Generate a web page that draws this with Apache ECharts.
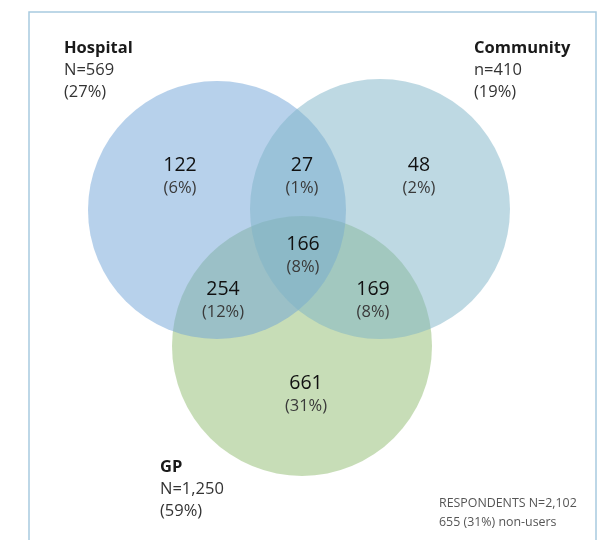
<!DOCTYPE html>
<html>
<head>
<meta charset="utf-8">
<script src="https://cdn.jsdelivr.net/npm/echarts@6/dist/echarts.min.js"></script>
<style>html,body{margin:0;padding:0;background:#fff}#c{width:604px;height:540px}</style>
</head>
<body>
<div id="c"></div>
<script>
// ---- data ----
const setNames = ['Hospital', 'Community', 'GP'];
const setCounts = ['N=569', 'n=410', 'N=1,250'];
const setPercents = ['(27%)', '(19%)', '(59%)'];
const regionKeys = ['H', 'HC', 'C', 'HCG', 'HG', 'CG', 'G'];
const regionCounts = ['122', '27', '48', '166', '254', '169', '661'];
const regionPercents = ['(6%)', '(1%)', '(2%)', '(8%)', '(12%)', '(8%)', '(31%)'];
const footnote = ['RESPONDENTS N=2,102', '655 (31%) non-users'];

// ---- layout (positions / styles) ----
const circleLayout = {
  GP: { cx: 302, cy: 346, r: 130, fill: 'rgba(143,188,112,0.5)' },
  Hospital: { cx: 217, cy: 210, r: 129, fill: 'rgba(111,163,216,0.5)' },
  Community: { cx: 380, cy: 209, r: 130, fill: 'rgba(125,180,200,0.5)' }
};
const drawOrder = ['GP', 'Hospital', 'Community'];
const setLabelPos = [[64, 48], [474, 48], [160, 467]];
const regionPos = {
  H: [180, 165], HC: [302, 165], C: [419, 165], HCG: [303, 244],
  HG: [223, 289], CG: [373, 289], G: [306, 383]
};
const FONT = '"Open Sans", "Noto Sans", sans-serif';

const graphics = [];
graphics.push({
  type: 'polyline', silent: true,
  shape: { points: [[29, 560], [29, 12], [596, 12], [596, 560]] },
  style: { stroke: '#a8cadf', lineWidth: 1.5, fill: null }
});
drawOrder.forEach(k => {
  const c = circleLayout[k];
  graphics.push({ type: 'circle', shape: { cx: c.cx, cy: c.cy, r: c.r }, style: { fill: c.fill } });
});
setNames.forEach((n, i) => {
  const [x, y] = setLabelPos[i];
  graphics.push({ type: 'text', x: x, y: y, style: { text: n, font: 'bold 16.5px ' + FONT, fill: '#1a1a1a', textVerticalAlign: 'middle', verticalAlign: 'middle' } });
  graphics.push({ type: 'text', x: x, y: y + 22, style: { text: setCounts[i], font: '16.5px ' + FONT, fill: '#333', textVerticalAlign: 'middle', verticalAlign: 'middle' } });
  graphics.push({ type: 'text', x: x, y: y + 44, style: { text: setPercents[i], font: '16.5px ' + FONT, fill: '#333', textVerticalAlign: 'middle', verticalAlign: 'middle' } });
});
regionKeys.forEach((k, i) => {
  const [x, y] = regionPos[k];
  graphics.push({ type: 'text', x: x, y: y, style: { text: regionCounts[i], font: '500 19.5px ' + FONT, fill: '#111', align: 'center', textAlign: 'center', verticalAlign: 'middle', textVerticalAlign: 'middle' } });
  graphics.push({ type: 'text', x: x, y: y + 23, style: { text: regionPercents[i], font: '16.5px ' + FONT, fill: '#3a3a3a', align: 'center', textAlign: 'center', verticalAlign: 'middle', textVerticalAlign: 'middle' } });
});
footnote.forEach((t, i) => {
  graphics.push({ type: 'text', x: 439, y: 503 + i * 19, style: { text: t, font: '12.4px ' + FONT, fill: '#555', verticalAlign: 'middle', textVerticalAlign: 'middle' } });
});

const chart = echarts.init(document.getElementById('c'), null, { renderer: 'canvas' });
chart.setOption({ animation: false, graphic: { elements: graphics } });
</script>
</body>
</html>
